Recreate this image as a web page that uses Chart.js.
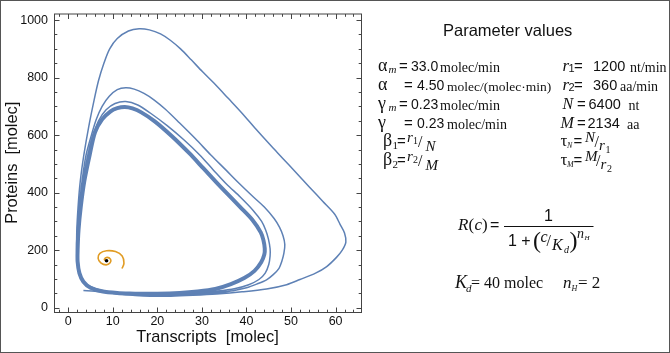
<!DOCTYPE html>
<html>
<head>
<meta charset="utf-8">
<script src="https://cdn.jsdelivr.net/npm/chart.js@4.4.1/dist/chart.umd.min.js"></script>
<style>
    html, body { margin: 0; padding: 0; background: #fff; }
    #wrap { position: relative; width: 670px; height: 353px; }
    #frame { position: absolute; left: 0; top: 0; width: 670px; height: 353px; box-sizing: border-box; border: 1px solid #555; }
    #phaseChart, #params { position: absolute; left: 0; top: 0; }
</style>
</head>
<body>
<div id="wrap">
    <div id="frame"></div>
    <canvas id="phaseChart" width="670" height="353" style="width:670px;height:353px"></canvas>
    <svg id="params" width="670" height="353"></svg>
</div>
<script>
// transient trajectory (three outer loops before it settles)
const transcripts = [
    3.4, 6, 9, 12, 15, 18.4, 23, 28, 33.3, 39, 44.5, 49, 52, 55.5, 58, 60.2, 61.5, 62.3, 62, 61, 59.8, 57.1, 54.1, 51.1, 48.1,
    45.2, 42.1, 38.9, 35.9, 33, 30.1, 27.6, 25.2, 22.9, 20.7, 18.2, 15.9, 13.5, 11, 9.3, 8, 6.8, 5.8, 4.6, 3.5, 2.7, 2.2, 1.9,
    1.9, 2.2, 2.9, 4, 6, 9, 13,
    18.3, 24, 29.5, 33.5, 37, 40, 42.3, 44.5, 46, 47.3, 47.9, 48.4, 48.6, 48.2, 47.4, 46.2, 44, 41.2, 38.5, 35.3, 32, 28.5,
    25, 21.8, 19.3, 17, 14.8, 12.9, 11, 9.2, 7.6, 6.3, 5.2, 4, 3.1, 2.5, 2.1, 2, 2.3, 3, 4.2, 6.3, 9.5, 13.5,
    18.3, 24, 29, 33.5, 37.5, 40.5, 42.8, 44.2, 45, 45.3, 45.3, 44.9, 44.3, 43.4, 41.4, 38.6, 35.5, 32.5, 29.5, 26, 22.2,
    18.4, 15.6, 12.9, 10.5, 8.5, 6.8, 5.5, 4.4, 3.4, 2.6, 2.1, 2, 2.3, 3.1, 4.5, 7, 10.5, 15
];
const proteins = [
    60, 57, 52, 46.5, 42, 39.5, 40, 43, 47.5, 55, 65, 80, 98, 120, 143, 175, 200, 228, 260, 290, 325, 370, 420, 470, 520,
    568, 621, 678, 728, 776, 821, 862, 900, 930, 952, 966, 970, 962, 936, 900, 850, 790, 722, 630, 531, 440, 350, 260,
    190, 135, 100, 79, 64, 54, 48,
    43, 45, 48, 53, 59, 69, 82, 97, 115, 137, 160, 190, 220, 250, 280, 310, 350, 390, 430, 480, 531, 588,
    642, 690, 722, 745, 760, 765, 758, 735, 700, 655, 600, 531, 440, 350, 260, 190, 135, 100, 80, 65, 55, 48,
    45.5, 48, 52, 58, 67, 80, 98, 120, 150, 180, 205, 240, 270, 300, 340, 385, 430, 480, 531, 583, 633,
    677, 705, 717, 710, 688, 650, 595, 531, 440, 340, 250, 180, 128, 95, 74, 60, 52, 48
];

// limit cycle (drawn thick, several passes on top of each other)
const cycleTranscripts = [
    15, 20, 25, 29, 33, 36.5, 39.5, 41.8, 43.3, 44, 44.1, 43.8, 43.2, 41.3, 38.6, 35.9, 33.3, 30.3, 27.1, 23.2, 19.4, 16.3,
    14.4, 12.7, 11, 9.5, 7.6, 6, 4.8, 3.6, 2.8, 2.3, 2.1, 2.1, 2.5, 3.4, 5, 7.5, 11, 15
];
const cycleProteins = [
    48.5, 48.5, 51, 56, 65, 82, 103, 128, 158, 185, 205, 235, 262, 306, 350, 393, 435, 485, 538, 597, 648, 680,
    693, 698, 694, 683, 655, 610, 531, 440, 350, 270, 200, 160, 120, 90, 69, 57, 51, 48.5
];

// trajectory that spirals into the fixed point
const spiralTranscripts = [12.05, 12.5, 12.1, 10.6, 8.6, 7.1, 6.7, 7.3, 8.5, 9.4, 9.5, 8.7, 8.1, 8.4];
const spiralProteins = [136, 155, 180, 195, 198, 189, 172, 156, 149, 156, 168, 175, 168, 163];
const fixedPoint = { x: 8.6, y: 163 };

const xTicks = [0, 10, 20, 30, 40, 50, 60];
const yTicks = [0, 200, 400, 600, 800, 1000];

const blue = "#5E81B5";
const orange = "#E19C24";

function points(xs, ys) {
    return xs.map((v, i) => ({ x: v, y: ys[i] }));
}

// Mathematica-style frame with ticks pointing inward on all four sides
const frameTicks = {
    id: "frameTicks",
    afterDraw(chart) {
        const { ctx, chartArea: a, scales: { x, y } } = chart;
        ctx.save();
        ctx.strokeStyle = "#444";
        ctx.lineWidth = 1;
        ctx.strokeRect(a.left + 0.5, a.top + 0.5, a.right - a.left, a.bottom - a.top);
        ctx.beginPath();
        for (let v = -2; v <= 64; v += 2) {
            const px = Math.round(x.getPixelForValue(v)) + 0.5;
            const len = v % 10 === 0 ? 5 : 2.8;
            ctx.moveTo(px, a.bottom + 0.5); ctx.lineTo(px, a.bottom + 0.5 - len);
            ctx.moveTo(px, a.top + 0.5); ctx.lineTo(px, a.top + 0.5 + len);
        }
        for (let v = 0; v <= 1000; v += 50) {
            const py = Math.round(y.getPixelForValue(v)) + 0.5;
            const len = v % 200 === 0 ? 5 : 2.8;
            ctx.moveTo(a.left + 0.5, py); ctx.lineTo(a.left + 0.5 + len, py);
            ctx.moveTo(a.right + 0.5, py); ctx.lineTo(a.right + 0.5 - len, py);
        }
        ctx.stroke();
        ctx.restore();
    }
};

const tickFont = { family: "Liberation Sans", size: 12.5 };
const titleFont = { family: "Liberation Sans", size: 16.4 };

new Chart(document.getElementById("phaseChart"), {
    type: "scatter",
    data: {
        datasets: [
            {
                data: [fixedPoint],
                pointRadius: 1.8,
                pointBackgroundColor: "#000",
                pointBorderWidth: 0
            },
            {
                data: points(spiralTranscripts, spiralProteins),
                showLine: true,
                borderColor: orange,
                borderWidth: 1.6,
                pointRadius: 0,
                tension: 0.4
            },
            {
                data: points(cycleTranscripts, cycleProteins),
                showLine: true,
                borderColor: blue,
                borderWidth: 4,
                pointRadius: 0,
                tension: 0.3
            },
            {
                data: points(transcripts, proteins),
                showLine: true,
                borderColor: blue,
                borderWidth: 1.5,
                pointRadius: 0,
                tension: 0.3
            }
        ]
    },
    options: {
        responsive: false,
        animation: false,
        layout: { padding: { left: 0, top: 4, right: 309, bottom: 0 } },
        plugins: { legend: { display: false }, tooltip: { enabled: false } },
        scales: {
            x: {
                type: "linear",
                min: -3.2,
                max: 65.7,
                grid: { display: false, drawTicks: false },
                border: { display: false },
                afterBuildTicks: s => { s.ticks = xTicks.map(v => ({ value: v })); },
                afterFit: s => { s.height = 41; },
                ticks: { font: tickFont, color: "#111", padding: 2, maxRotation: 0, callback: v => String(v) },
                title: {
                    display: true,
                    text: "Transcripts  [molec]",
                    font: titleFont,
                    color: "#111",
                    padding: { top: 0, bottom: 5.2 }
                }
            },
            y: {
                type: "linear",
                min: -15,
                max: 1023,
                grid: { display: false, drawTicks: false },
                border: { display: false },
                afterBuildTicks: s => { s.ticks = yTicks.map(v => ({ value: v })); },
                afterFit: s => { s.width = 54; },
                ticks: { font: tickFont, color: "#111", padding: 6, callback: v => String(v) },
                title: {
                    display: true,
                    text: "Proteins  [molec]",
                    font: titleFont,
                    color: "#111",
                    padding: { top: 2.3, bottom: 0 }
                }
            }
        }
    },
    plugins: [frameTicks]
});

// parameter panel on the right, as svg text
const NS = "http://www.w3.org/2000/svg";
const svg = document.getElementById("params");
const SANS = "Liberation Sans, Arial, sans-serif";
const SERIF = "Liberation Serif, Times New Roman, serif";

function put(x, y, str, family, size, italic) {
    const t = document.createElementNS(NS, "text");
    t.setAttribute("x", x);
    t.setAttribute("y", y);
    t.setAttribute("font-family", family);
    t.setAttribute("font-size", size);
    t.setAttribute("fill", "#111");
    if (italic) t.setAttribute("font-style", "italic");
    t.textContent = str;
    svg.appendChild(t);
}

put(443, 36, "Parameter values", SANS, 16.5);

// left column
put(378, 70.5, "α", SERIF, 18); put(388.5, 73, "m", SERIF, 11, true);
put(399, 70.5, "=", SANS, 15); put(411, 70.5, "33.0", SANS, 14); put(440, 71.5, "molec/min", SERIF, 14);

put(378, 89.5, "α", SERIF, 18);
put(404, 89.5, "=", SANS, 15); put(417, 89.5, "4.50", SANS, 14); put(447, 90.5, "molec/(molec·min)", SERIF, 13.5);

put(378, 108.5, "γ", SERIF, 18); put(388.5, 111, "m", SERIF, 11, true);
put(399, 108.5, "=", SANS, 15); put(411, 108.5, "0.23", SANS, 14); put(440, 109.5, "molec/min", SERIF, 14);

put(378, 127.5, "γ", SERIF, 18);
put(404, 127.5, "=", SANS, 15); put(417, 127.5, "0.23", SANS, 14); put(447, 128.5, "molec/min", SERIF, 14);

put(383, 146, "β", SERIF, 18); put(392.5, 149, "1", SERIF, 11);
put(397, 146, "=", SANS, 15); put(407, 141.5, "r", SERIF, 15, true); put(413, 144, "1", SERIF, 10);
put(418, 147, "/", SERIF, 16); put(425.5, 150.5, "N", SERIF, 15, true);

put(383, 165, "β", SERIF, 18); put(392.5, 168, "2", SERIF, 11);
put(397, 165, "=", SANS, 15); put(407, 160.5, "r", SERIF, 15, true); put(413, 163, "2", SERIF, 10);
put(418, 166, "/", SERIF, 16); put(425.5, 169.5, "M", SERIF, 15, true);

// right column
put(562.5, 70.5, "r", SERIF, 17, true); put(568.5, 72, "1", SANS, 11);
put(574, 70.5, "=", SANS, 15); put(593, 70.5, "1200", SANS, 14.5); put(630, 71.5, "nt/min", SERIF, 14);

put(562.5, 89.5, "r", SERIF, 17, true); put(568.5, 91, "2", SANS, 11);
put(574, 89.5, "=", SANS, 15); put(593, 89.5, "360", SANS, 14.5); put(620, 90.5, "aa/min", SERIF, 14);

put(562.5, 108.5, "N", SERIF, 16, true);
put(577, 108.5, "=", SANS, 15); put(588.5, 108.5, "6400", SANS, 14.5); put(628.5, 109.5, "nt", SERIF, 14);

put(560.5, 127.5, "M", SERIF, 16, true);
put(577, 127.5, "=", SANS, 15); put(587.5, 127.5, "2134", SANS, 14.5); put(627, 128.5, "aa", SERIF, 14);

put(560.5, 146, "τ", SERIF, 17); put(567, 148, "N", SERIF, 8, true);
put(573.5, 146, "=", SANS, 15); put(585, 142, "N", SERIF, 15, true); put(594.5, 147, "/", SERIF, 16);
put(599, 150, "r", SERIF, 15, true); put(605.5, 152.5, "1", SERIF, 10);

put(560.5, 165, "τ", SERIF, 17); put(567, 167, "M", SERIF, 8, true);
put(573.5, 165, "=", SANS, 15); put(585, 161, "M", SERIF, 15, true); put(596, 166, "/", SERIF, 16);
put(600.5, 169, "r", SERIF, 15, true); put(607, 171.5, "2", SERIF, 10);

// repression function
put(458, 230, "R", SERIF, 17, true); put(468.5, 230, "(", SERIF, 17);
put(474.5, 230, "c", SERIF, 17, true); put(482, 230, ")", SERIF, 17);
put(490, 230, "=", SANS, 16);
const bar = document.createElementNS(NS, "line");
bar.setAttribute("x1", 504); bar.setAttribute("x2", 593.5);
bar.setAttribute("y1", 226.5); bar.setAttribute("y2", 226.5);
bar.setAttribute("stroke", "#111"); bar.setAttribute("stroke-width", 1);
svg.appendChild(bar);
put(544, 221, "1", SANS, 16);
put(508, 245.5, "1 +", SANS, 16);
put(533, 248, "(", SERIF, 24); put(540.5, 242, "c", SERIF, 16, true); put(546.5, 246, "/", SERIF, 16);
put(552, 250, "K", SERIF, 16, true); put(564, 253, "d", SERIF, 10, true); put(569.5, 248, ")", SERIF, 24);
put(577, 237.5, "n", SERIF, 14, true); put(584.5, 239.5, "H", SERIF, 7, true);

put(455, 288, "K", SERIF, 18, true); put(466, 291.5, "d", SERIF, 11, true);
put(471, 288, "= 40 molec", SERIF, 16);
put(563, 288, "n", SERIF, 17, true); put(571.5, 290.5, "H", SERIF, 8, true);
put(578, 288, "= 2", SERIF, 17);
</script>
</body>
</html>
